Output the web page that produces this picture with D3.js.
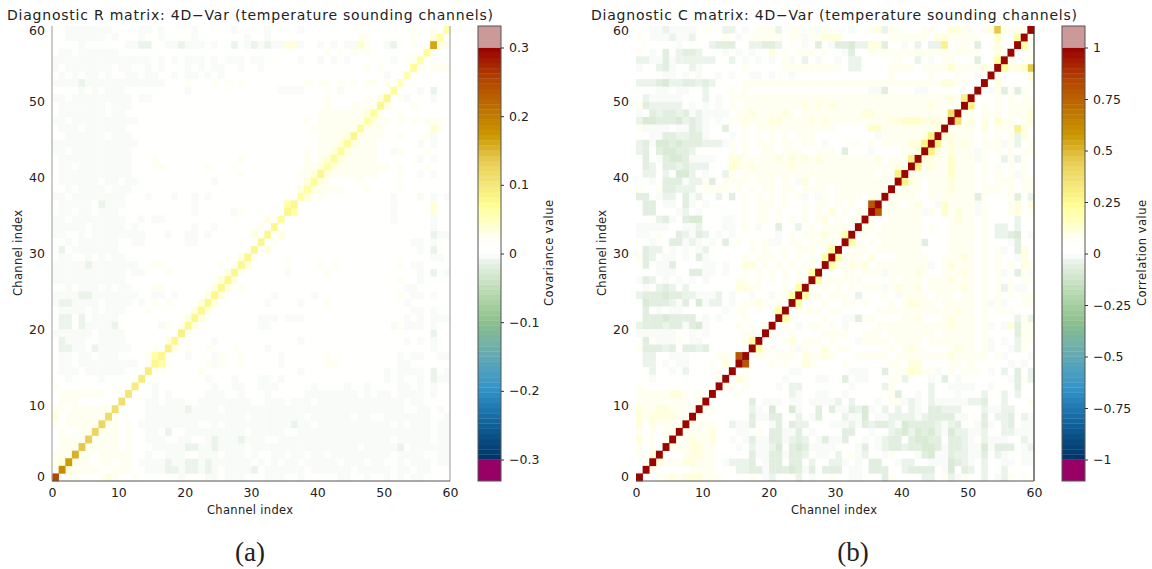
<!DOCTYPE html>
<html>
<head>
<meta charset="utf-8">
<script src="https://d3js.org/d3.v7.min.js"></script>
<style>
  html, body { margin: 0; padding: 0; background: #fff; }
  svg text { font-family: "DejaVu Sans", sans-serif; fill: #222; }
</style>
</head>
<body>
<div id="chart"></div>
<script>
// cell codes, as a fraction of the colour bar maximum
const cellLevels = { '.': 0, '1': 0.09, '2': 0.115, '3': 0.14, '4': 0.21, '5': 0.28, '6': 0.36, '7': 0.45, '8': 0.78, '9': 1,
                     'a': -0.015, 'b': -0.04, 'c': -0.065, 'd': -0.09, 'e': -0.14 };

// colour bar stops, fraction of maximum -> colour
const stopValues = [-1, -0.83, -0.67, -0.57, -0.45, -0.33, -0.2, -0.1, -0.03, 0, 0.05, 0.09, 0.13, 0.23, 0.33, 0.45, 0.57, 0.67, 0.83, 1];
const stopColors = ['#003366', '#106098', '#3090c8', '#4da0c0', '#70b0a8', '#8cc08c', '#b5d8ae', '#d5e8d0', '#eef5ee', '#ffffff',
                    '#fffffb', '#fffff0', '#ffffd0', '#ffff99', '#f5e87a', '#e8cc55', '#cc9900', '#c07b00', '#b44a00', '#990000'];

const channelTicks = [0, 10, 20, 30, 40, 50, 60];
const rBarTicks = [-0.3, -0.2, -0.1, 0, 0.1, 0.2, 0.3];
const cBarTicks = [-1, -0.75, -0.5, -0.25, 0, 0.25, 0.5, 0.75, 1];

// diagonal of R (covariance units), channel 0 to 59
const rDiag = [0.25, 0.18, 0.165, 0.15, 0.135, 0.13, 0.125, 0.12, 0.115, 0.11,
               0.105, 0.10, 0.095, 0.09, 0.09, 0.08, 0.08, 0.085, 0.08, 0.085,
               0.08, 0.08, 0.08, 0.08, 0.08, 0.08, 0.08, 0.08, 0.08, 0.08,
               0.075, 0.075, 0.075, 0.075, 0.07, 0.08, 0.08, 0.06, 0.065, 0.07,
               0.075, 0.065, 0.07, 0.07, 0.07, 0.075, 0.07, 0.06, 0.07, 0.075,
               0.075, 0.07, 0.05, 0.055, 0.07, 0.06, 0.07, 0.16, 0.06, 0.06];
// diagonal of C: all channels saturate at 1
const cDiag = [1, 1, 1, 1, 1, 1, 1, 1, 1, 1, 1, 1, 1, 1, 1, 1, 1, 1, 1, 1,
               1, 1, 1, 1, 1, 1, 1, 1, 1, 1, 1, 1, 1, 1, 1, 1, 1, 1, 1, 1,
               1, 1, 1, 1, 1, 1, 1, 1, 1, 1, 1, 1, 1, 1, 1, 1, 1, 1, 1, 1];

// lower triangle (x < y) of R, first line is channel 59, last is channel 1
const rRows = [
  "..aaaaaaa. ...aa.a... .a.....a.. ..a....a.. .......... ....1..1.",
  "..aaaaaa.a ...a..a... .a.......a ..a....... ......11.. ....1..2",
  "....a..... .aabb..aab aaa.a..b.a babaa22a.. a.a.aa31.. ab..1..",
  ".aa.aaaaaa .......... .......... .......... .1.1.1.1.. ......",
  "aaaaaaaaaa aaaaa.a.a. aaa.a.aaa. aa.....a.. a.a.a..... .a..1",
  "a.aaaaaaa. aa..a.a... a.a.aa..a. .a........ .......1.1 ....",
  ".a.a.aa.a. .aa.aa..a. aa.a.a.... .......... .......... a..",
  "aaaabaaaaa aaaaaaa... 1...1.1.1. ........1. 11.1.1.11. 1.",
  "....a.a.aa a......... a......... ....aaaa.. ...a...... .",
  "aa.aaaaaaa aa.aa..... .......... .......... .1.....1.2",
  ".aaaaaaa.a aa........ .......... .......... .1...1111",
  ".aaaaaaa.a a......... .......... .......... 11111112",
  "aa.aaaaaaa aaa....... .......... ........1. 1111111",
  ".aaa.aaaaa a......... .......... .........1 111111",
  "..aaaaaa.a aa........ .......... .......... 11112",
  "aaaaaaaaaa aaa....... .......... .......... 1112",
  "aa.aaaaaaa aa........ .......... ........1. 112",
  ".aaaaaaaaa aa...1.... ........1. ........1. 12",
  ".aa.aaaaaa aa...11... ...1...1.. ........11 2",
  ".aaaaaaaaa aa........ ........1. .......112",
  ".aaaaaa.aa .aa....... ....a..... ........2",
  "..a.aaaa.a aa........ .......... .......2",
  "aa.aaaaaaa a...a...a. .a.a...... .......",
  ".aaaaa.baa a......... .a........ .....4",
  ".aa.aa.aaa .......... .a.....a1. .....",
  "aa.aaaaaaa a..a.aa... .......... ..2.",
  "aaaaa.aaaa a.a....... .a..a..... .1.",
  "aa..a.aaaa aaaa...a.. aa.a...... 2.",
  "..a.aaaaaa ..aa...... aa........ .",
  ".b.aaaaaaa .......... .........1",
  ".aa..a.a.a a......... ........2",
  "aaaaabaaaa aaa..11... .....1.1",
  "aaaaaaaaaa a.aa...1.. ......2",
  "aaaaaaaaaa a......... .....2",
  "..a.aaa.a. aa...11... ....2",
  "aaaabbaaaa aaa..aa.a. ...2",
  "abbaaaa.aa aa.a.1.1.. ..2",
  ".aaaa.a.aa a...1..... .2",
  ".bb.b.aaaa .......... 2",
  ".bb.baaaab ......a1.1",
  "aaaaaa.aaa a........",
  ".baaa..aaa a......2",
  ".bbaa.baaa aa...1.",
  ".aa.aa.aaa ....14",
  ".aa.aaaaaa aaa.1",
  ".aaa.aaaaa a...",
  "..a....a.. ...",
  "1......... ..",
  ".1111111.. .",
  ".111......",
  "11.111111",
  "2.111111",
  "1.11111",
  ".1..11",
  ".1111",
  ".111",
  "111",
  "12",
  "."
];

// lower triangle (x < y) of C, first line is channel 59, last is channel 1
const cRows = [
  "..aabaaaa. 1..bb.a.11 1b.11.1a1. ..a..12b11 ...11..221 1.1271111",
  "1.aaabaab. ...1.a.111 11.11a1122 2.......11 1111.22111 11..3..4",
  "......a... .bccc..bbc cb...a.c.a ccdbb22c.. a.b.bb5.11 .c..2..",
  "1.a.c.bccb ...a.a.a.. 2.1.111.1. .ac..11111 1111111111 11..21",
  "bbaacabbbb bb..b.a.a. a.1a.b.a.. a.bb.....1 ..b.a.11.. .c..4",
  "a..bca..ba ......1... ..11111111 1.bb....11 11.1111311 1121",
  "....aa.a.a ..a.a..aa. a..a...... ........1. ....1...1. .a.",
  "bbbcdbbccb cb....1111 1111111111 1111111111 1111112211 ..",
  "...aa.aa.. b...1.1... .......... .....aac.. ..aa...... .",
  ".baaaaa... b.a.111111 1111111111 1111111111 1111111215",
  "1cbbbbb.a. a.a.1.1111 1111121212 1111111111 111121111",
  "a.cbccbcab aaaa.11211 1121.11111 1111221111 11111116",
  "bddcccdbcb a.a.112111 2211112121 1111111122 3332221",
  "1aaaa.aacb a..c..1.11 1111111111 .....33111 111112",
  "..aaccbbcc a...a.1.1. 1.1.111... ......a111 11125",
  "bcaddcdccc bbba1.1.11 1.11.11.a. ...1.1.111 1225",
  "bc.cddccb. ....1.1..1 1.111..111 .c...a.... 112",
  ".c.acddcaa aa..221111 1212121211 1111112.11 15",
  ".cb.ccbcbb b...321211 1112111111 1111111112 1",
  ".bb.b.ddb. a..b1.1111 1111111111 111111.115",
  "..a.cccabb 1c.1111.11 1.1.a2.111 111111111",
  "1..1ccbbb. 1111.1.1.1 1.11.1111. 11111111",
  "cc.abb.cab ..b.c.1.1. 1.1.1a.a1. 1111.11",
  ".cc.aa.ca. a.....1.11 1.1..1.11. 1.1..8",
  ".cc...ab.a ......1.11 .1...1.1.2 .1.11",
  "...bca.cdd ...aa.1.11 .1.1.1.12. 1.11",
  "aaaaa..aab ...aa.1.a. .c..b.1.11 11.",
  "aa.1..cbac b.a.a..... .a.1.11121 14",
  "..a..ccaba .a.c.1.1.1 aa.11.1111 .",
  ".cbb.a.a.a b......1.1 ..1.111.14",
  "1cb.aa.a.c a.....1.11 1.1.1.1.4",
  ".c.aac.... aa.a..22.1 .1.1.11.",
  "...aaa..cc aa.a..1.1. 1.1.1.4",
  "acb.a.a.a. a....11.1. 1.1.11",
  ".a.bcb.b.. .....2211. ..1.4",
  "bcccdccbba aab.a..a.. a.14",
  ".dcccbac.d abb.a.1121 .1.",
  ".c.a.aa... ...a.11.1. 14",
  ".cccdcccc. a.a...1... .",
  "bcccbccacd a....1.1.1",
  "aaaaaa..a. a.....11.",
  ".c.aaa1.aa ......14",
  "1cccbc.ccb c......",
  ".bb..aaa.. ..1118",
  ".bb.a.aa.. .1.2.",
  "..b..a.b.. ..1.",
  "..a....... ..1",
  "1......... ..",
  "11111221.1 .",
  "11111111.1",
  "211221111",
  "21222211",
  "2.21111",
  "1.1.11",
  "2.1.1",
  "1.1.",
  "1.2",
  ".1",
  "."
];

const channelCount = 60;

// turn the triangle rows and the diagonal into a full list of cells
function buildCells(rows, diag, vmax) {
  const cells = [];
  rows.forEach((row, i) => {
    const y = channelCount - 1 - i;
    const codes = row.replace(/ /g, '');
    for (let x = 0; x < y; x++) {
      const v = (cellLevels[codes[x]] || 0) * vmax;
      cells.push({ x: x, y: y, v: v });
      cells.push({ x: y, y: x, v: v });
    }
  });
  diag.forEach((v, i) => cells.push({ x: i, y: i, v: v }));
  return cells;
}

const svg = d3.select('#chart').append('svg')
  .attr('width', 1152)
  .attr('height', 569);

const levelColor = d3.scaleLinear()
  .domain(stopValues)
  .range(stopColors)
  .clamp(true);

const binCount = 80;
const binCenters = d3.range(binCount).map(i => -1 + (i + 0.5) * 2 / binCount);
const binScale = d3.scaleQuantize().domain([-1, 1]).range(binCenters);

function drawPanel(p) {
  const g = svg.append('g');
  const x = d3.scaleLinear().domain([0, channelCount]).range([p.left, p.left + 398]);
  const y = d3.scaleLinear().domain([0, channelCount]).range([481, 26]);

  const cellFill = v => levelColor(binScale(v / p.vmax));

  g.append('g').selectAll('rect')
    .data(buildCells(p.rows, p.diag, p.vmax))
    .enter()
    .append('rect')
    .attr('x', d => x(d.x))
    .attr('y', d => y(d.y + 1))
    .attr('width', x(1) - x(0) + 0.3)
    .attr('height', y(0) - y(1) + 0.3)
    .attr('fill', d => cellFill(d.v));

  // plot frame, only some sides are drawn
  p.edges.forEach(e => {
    g.append('line')
      .attr('x1', x(e[0])).attr('y1', y(e[1]))
      .attr('x2', x(e[2])).attr('y2', y(e[3]))
      .attr('stroke', e[4]).attr('stroke-width', 1.2);
  });

  const xAxis = g.append('g')
    .attr('transform', 'translate(0,481)')
    .call(d3.axisBottom(x).tickValues(channelTicks).tickSize(0).tickPadding(7));
  const yAxis = g.append('g')
    .attr('transform', `translate(${p.left},0)`)
    .call(d3.axisLeft(y).tickValues(channelTicks).tickSize(0).tickPadding(7));
  xAxis.select('.domain').remove();
  yAxis.select('.domain').remove();
  g.selectAll('.tick text')
    .attr('font-size', 12.5)
    .style('font-family', '"DejaVu Sans", sans-serif')
    .attr('fill', '#222');
  // the end labels of the y axis sit inside the frame
  yAxis.selectAll('.tick text')
    .attr('dy', d => d === 0 ? '-0.02em' : d === 60 ? '0.7em' : '0.32em');

  g.append('text')
    .attr('x', p.left - 45)
    .attr('y', 20)
    .attr('font-size', 14)
    .attr('textLength', 486)
    .attr('lengthAdjust', 'spacing')
    .text(p.title);

  g.append('text')
    .attr('x', x(30) - 1)
    .attr('y', 514)
    .attr('text-anchor', 'middle')
    .attr('font-size', 11.5)
    .attr('textLength', 86)
    .text('Channel index');

  g.append('text')
    .attr('transform', `translate(${p.left - 30},253) rotate(-90)`)
    .attr('text-anchor', 'middle')
    .attr('font-size', 11.5)
    .attr('textLength', 86)
    .text('Channel index');

  g.append('text')
    .attr('x', p.tagX)
    .attr('y', 561)
    .attr('text-anchor', 'middle')
    .attr('font-size', 27)
    .style('font-family', '"Liberation Serif", serif')
    .text(p.tag);

  // colour bar
  const barLeft = p.left + 426;
  const barWidth = 23;
  const barY = d3.scaleLinear().domain([-p.vmax, p.vmax]).range([459.5, 47.5]);
  const bar = svg.append('g');
  const step = (459.5 - 47.5) / binCount;

  bar.append('g').selectAll('rect')
    .data(binCenters)
    .enter()
    .append('rect')
    .attr('x', barLeft)
    .attr('y', d => barY(d * p.vmax) - step / 2)
    .attr('width', barWidth)
    .attr('height', step + 0.3)
    .attr('fill', d => levelColor(d));

  bar.append('rect')
    .attr('x', barLeft).attr('y', 26)
    .attr('width', barWidth).attr('height', barY(p.vmax) - 26)
    .attr('fill', '#cc9999');
  bar.append('rect')
    .attr('x', barLeft).attr('y', barY(-p.vmax))
    .attr('width', barWidth).attr('height', 481 - barY(-p.vmax))
    .attr('fill', '#990066');

  bar.append('rect')
    .attr('x', barLeft).attr('y', 26)
    .attr('width', barWidth).attr('height', 455)
    .attr('fill', 'none')
    .attr('stroke', '#555')
    .attr('stroke-width', 1);

  const barAxis = bar.append('g')
    .attr('transform', `translate(${barLeft + barWidth},0)`)
    .call(d3.axisRight(barY).tickValues(p.barTicks).tickFormat(d3.format('~g')).tickSize(3).tickPadding(5));
  barAxis.select('.domain').remove();
  barAxis.selectAll('line').attr('stroke', '#333');
  barAxis.selectAll('text')
    .attr('font-size', 12.5)
    .style('font-family', '"DejaVu Sans", sans-serif')
    .attr('fill', '#222');

  bar.append('text')
    .attr('transform', `translate(${barLeft + p.labelGap},253) rotate(-90)`)
    .attr('text-anchor', 'middle')
    .attr('font-size', 11.5)
    .attr('textLength', p.labelLength)
    .text(p.barLabel);
}

drawPanel({
  left: 52, vmax: 0.3, rows: rRows, diag: rDiag, barTicks: rBarTicks,
  title: 'Diagnostic R matrix: 4D\u2212Var (temperature sounding channels)',
  barLabel: 'Covariance value', labelGap: 75, labelLength: 106, tag: '(a)', tagX: 250,
  edges: [[0, 0, 0, 60, '#aaa'], [60, 0, 60, 60, '#aaa'], [0, 0, 60, 0, '#555']]
});

drawPanel({
  left: 636, vmax: 1, rows: cRows, diag: cDiag, barTicks: cBarTicks,
  title: 'Diagnostic C matrix: 4D\u2212Var (temperature sounding channels)',
  barLabel: 'Correlation value', labelGap: 84, labelLength: 106, tag: '(b)', tagX: 853,
  edges: [[60, 0, 60, 60, '#333'], [0, 0, 60, 0, '#555']]
});
</script>
</body>
</html>
